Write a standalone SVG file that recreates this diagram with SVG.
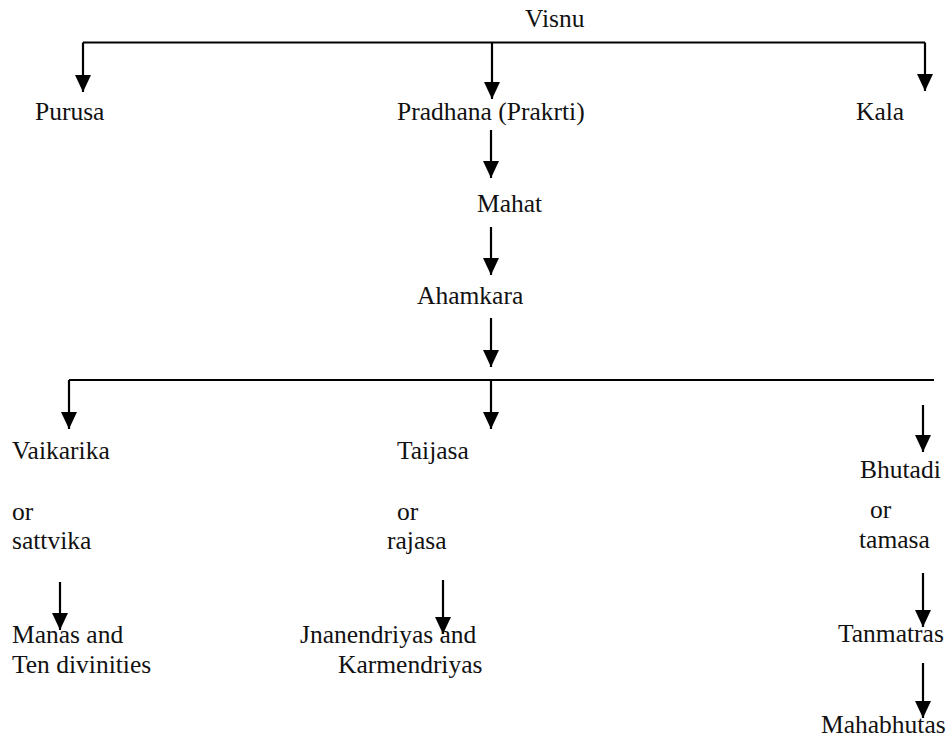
<svg xmlns="http://www.w3.org/2000/svg" width="950" height="740" viewBox="0 0 950 740">
<style>
text { font-family: "Liberation Serif", "DejaVu Serif", serif; font-size: 25.5px; fill: #111; }
.c { stroke: #000; stroke-width: 2.2; fill: none; }
.a { stroke: #000; stroke-width: 2.2; fill: none; marker-end: url(#ah); }
</style>
<defs>
<marker id="ah" markerUnits="userSpaceOnUse" markerWidth="17" markerHeight="16" viewBox="0 0 17 16" refX="17" refY="8" orient="auto">
<path d="M0,0 L17,8 L0,16 z" fill="#000"/>
</marker>
</defs>
<rect width="950" height="740" fill="#fff"/>
<g id="connectors">
<path class="c" d="M83,42.5 H925"/>
<path class="a" d="M83,42.5 V92"/>
<path class="a" d="M492,42.5 V99"/>
<path class="a" d="M925,42.5 V91"/>
<path class="a" d="M491,130 V178"/>
<path class="a" d="M491,227 V275"/>
<path class="a" d="M491,318 V367"/>
<path class="c" d="M69,380 H934"/>
<path class="a" d="M69,380 V429"/>
<path class="a" d="M491,380 V429"/>
<path class="a" d="M923,405 V452"/>
<path class="a" d="M60,582 V630"/>
<path class="a" d="M443,580 V634"/>
<path class="a" d="M923,573 V627"/>
<path class="a" d="M923,663 V718"/>
</g>
<g id="visnu"><text x="525" y="27">Visnu</text></g>
<g id="purusa"><text x="35" y="120">Purusa</text></g>
<g id="pradhana"><text x="397" y="120">Pradhana (Prakrti)</text></g>
<g id="kala"><text x="856" y="120">Kala</text></g>
<g id="mahat"><text x="477" y="212">Mahat</text></g>
<g id="ahamkara"><text x="417" y="304">Ahamkara</text></g>
<g id="vaikarika"><text x="12" y="459">Vaikarika</text><text x="12" y="520">or</text><text x="12" y="549">sattvika</text></g>
<g id="taijasa"><text x="397" y="459">Taijasa</text><text x="397" y="520">or</text><text x="387" y="549">rajasa</text></g>
<g id="bhutadi"><text x="860" y="478">Bhutadi</text><text x="870" y="518">or</text><text x="859" y="548">tamasa</text></g>
<g id="manas"><text x="12" y="643">Manas and</text><text x="12" y="673">Ten divinities</text></g>
<g id="jnanendriyas"><text x="300" y="643">Jnanendriyas and</text><text x="338" y="673">Karmendriyas</text></g>
<g id="tanmatras"><text x="838" y="642">Tanmatras</text></g>
<g id="mahabhutas"><text x="821" y="733">Mahabhutas</text></g>
</svg>
